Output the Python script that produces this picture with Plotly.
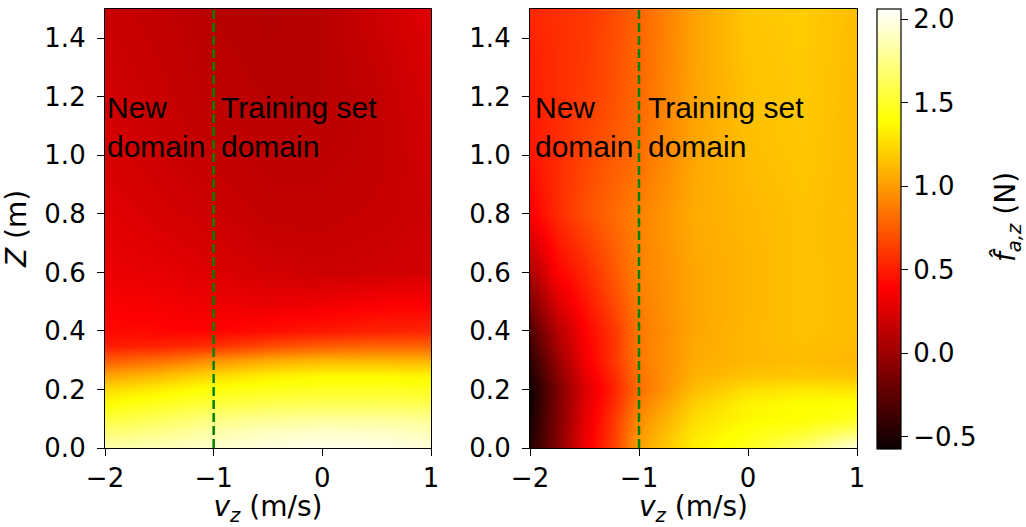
import plotly.graph_objects as go

# ---- data ----
vz = [-2, -1.75, -1.5, -1.25, -1, -0.5, 0, 0.5, 1]
Zs = [0, 0.05, 0.1, 0.15, 0.2, 0.25, 0.3, 0.35, 0.4, 0.5, 0.6, 0.8, 1.0, 1.2, 1.5]

f_left = [
    [1.84, 1.86, 1.88, 1.91, 1.94, 1.98, 2.01, 2.00, 1.97],
    [1.70, 1.73, 1.76, 1.80, 1.84, 1.90, 1.93, 1.92, 1.88],
    [1.55, 1.59, 1.63, 1.68, 1.73, 1.78, 1.80, 1.80, 1.78],
    [1.39, 1.44, 1.48, 1.52, 1.55, 1.60, 1.62, 1.62, 1.60],
    [1.25, 1.28, 1.32, 1.37, 1.42, 1.46, 1.48, 1.48, 1.47],
    [1.02, 1.07, 1.12, 1.18, 1.24, 1.32, 1.36, 1.36, 1.34],
    [0.74, 0.78, 0.82, 0.88, 0.95, 1.05, 1.10, 1.10, 1.08],
    [0.50, 0.51, 0.52, 0.55, 0.58, 0.68, 0.75, 0.78, 0.78],
    [0.42, 0.42, 0.41, 0.40, 0.40, 0.44, 0.48, 0.52, 0.53],
    [0.37, 0.36, 0.35, 0.33, 0.32, 0.30, 0.32, 0.36, 0.37],
    [0.31, 0.30, 0.29, 0.27, 0.25, 0.21, 0.19, 0.20, 0.22],
    [0.27, 0.25, 0.23, 0.21, 0.19, 0.15, 0.15, 0.17, 0.19],
    [0.23, 0.21, 0.19, 0.17, 0.15, 0.13, 0.13, 0.15, 0.21],
    [0.21, 0.19, 0.17, 0.15, 0.13, 0.11, 0.11, 0.15, 0.23],
    [0.17, 0.16, 0.15, 0.13, 0.11, 0.09, 0.11, 0.19, 0.27],
]

f_right = [
    [-0.46, -0.10, 0.33, 0.62, 1.02, 1.33, 1.47, 1.70, 1.99],
    [-0.50, -0.11, 0.31, 0.60, 0.98, 1.30, 1.42, 1.52, 1.70],
    [-0.52, -0.12, 0.29, 0.58, 0.94, 1.25, 1.37, 1.40, 1.47],
    [-0.55, -0.13, 0.27, 0.54, 0.88, 1.20, 1.35, 1.39, 1.40],
    [-0.56, -0.14, 0.25, 0.50, 0.82, 1.13, 1.26, 1.30, 1.28],
    [-0.50, -0.08, 0.30, 0.54, 0.84, 1.08, 1.15, 1.17, 1.15],
    [-0.44, -0.02, 0.35, 0.58, 0.86, 1.06, 1.11, 1.13, 1.11],
    [-0.37, 0.04, 0.37, 0.58, 0.86, 1.05, 1.11, 1.14, 1.12],
    [-0.30, 0.09, 0.39, 0.58, 0.86, 1.04, 1.11, 1.15, 1.13],
    [-0.12, 0.25, 0.47, 0.66, 0.88, 1.04, 1.10, 1.15, 1.13],
    [0.06, 0.39, 0.54, 0.72, 0.90, 1.04, 1.10, 1.15, 1.13],
    [0.37, 0.55, 0.70, 0.80, 0.90, 1.06, 1.11, 1.15, 1.12],
    [0.47, 0.56, 0.66, 0.74, 0.82, 1.04, 1.13, 1.17, 1.12],
    [0.50, 0.56, 0.62, 0.70, 0.80, 1.03, 1.15, 1.18, 1.12],
    [0.54, 0.57, 0.60, 0.68, 0.78, 1.02, 1.17, 1.19, 1.13],
]

boundary_vz = -1
x_ticks = [-2, -1, 0, 1]
z_ticks = [0, 0.2, 0.4, 0.6, 0.8, 1.0, 1.2, 1.4]
cbar_ticks = [-0.5, 0.0, 0.5, 1.0, 1.5, 2.0]
cmin, cmax = -0.574, 2.06

# matplotlib "hot" colormap
hot = [
    [0.0, "rgb(11,0,0)"],
    [0.365079, "rgb(255,0,0)"],
    [0.746032, "rgb(255,255,0)"],
    [1.0, "rgb(255,255,255)"],
]

W, H = 1026, 527
def px_x(p): return p / W
def px_y(p): return 1 - p / H

tick_font = dict(family="DejaVu Sans", size=26, color="black")
title_font = dict(family="DejaVu Sans", size=28, color="black")

fig = go.Figure()
fig.add_trace(go.Heatmap(x=vz, y=Zs, z=f_left, coloraxis="coloraxis",
                         zsmooth="best", xaxis="x", yaxis="y", hoverinfo="skip"))
fig.add_trace(go.Heatmap(x=vz, y=Zs, z=f_right, coloraxis="coloraxis",
                         zsmooth="best", xaxis="x2", yaxis="y2", hoverinfo="skip"))

ax_common = dict(showline=True, linecolor="black", linewidth=1.2, mirror=True,
                 ticks="outside", ticklen=7, tickcolor="black", tickwidth=1.2,
                 tickfont=tick_font, showgrid=False, zeroline=False, automargin=False)

xtitle = dict(text="<i>v</i><sub><i>z</i></sub> (m/s)", font=title_font, standoff=14)

fig.update_layout(
    width=W, height=H,
    margin=dict(l=0, r=0, t=0, b=0),
    paper_bgcolor="white", plot_bgcolor="white",
    xaxis=dict(domain=[px_x(105), px_x(431)], range=[-2, 1], anchor="y",
               tickvals=x_ticks, title=xtitle, ticklabelstandoff=0, **ax_common),
    yaxis=dict(domain=[px_y(448), px_y(9)], range=[0, 1.5], anchor="x",
               tickvals=z_ticks, tickformat=".1f", ticklabelstandoff=6,
               title=dict(text="<i>Z</i> (m)", font=title_font, standoff=10),
               **ax_common),
    xaxis2=dict(domain=[px_x(530), px_x(857)], range=[-2, 1], anchor="y2",
                tickvals=x_ticks, title=xtitle, ticklabelstandoff=0, **ax_common),
    yaxis2=dict(domain=[px_y(448), px_y(9)], range=[0, 1.5], anchor="x2",
                tickvals=z_ticks, tickformat=".1f", ticklabelstandoff=6,
                **ax_common),
    coloraxis=dict(
        colorscale=hot, cmin=cmin, cmax=cmax,
        colorbar=dict(
            x=px_x(877), xanchor="left", y=px_y(229), yanchor="middle",
            thickness=24, thicknessmode="pixels", len=440, lenmode="pixels",
            xpad=0, ypad=0, outlinewidth=1.2, outlinecolor="black",
            ticks="outside", ticklen=7, tickcolor="black", tickwidth=1.2,
            tickvals=cbar_ticks, tickformat=".1f", tickfont=tick_font,
        ),
    ),
)

# dashed boundary lines
for xa, ya in [("x", "y"), ("x2", "y2")]:
    fig.add_shape(type="line", xref=xa, yref=ya, x0=boundary_vz, x1=boundary_vz,
                  y0=0, y1=1.5, line=dict(color="rgb(0,128,0)", width=2.5, dash="9px,4px"))

ann_font = dict(family="Liberation Sans, Arial", size=30, color="black")
for xa, ya, xn, xt in [("x", "y", -1.98, -0.93), ("x2", "y2", -1.95, -0.92)]:
    fig.add_annotation(x=xn, y=1.0, xref=xa, yref=ya, text="New<br>domain",
                       showarrow=False, xanchor="left", yanchor="bottom", align="left",
                       font=ann_font, xshift=-2, yshift=-10)
    fig.add_annotation(x=xt, y=1.0, xref=xa, yref=ya, text="Training set<br>domain",
                       showarrow=False, xanchor="left", yanchor="bottom", align="left",
                       font=ann_font, xshift=-2, yshift=-10)

# colorbar label
fig.add_annotation(x=px_x(1007), y=px_y(217), xref="paper", yref="paper",
                   text="<i>f̂</i><sub><i>a,z</i></sub> (N)", textangle=-90,
                   showarrow=False, xanchor="center", yanchor="middle",
                   font=title_font)

fig.write_html("out.html")
